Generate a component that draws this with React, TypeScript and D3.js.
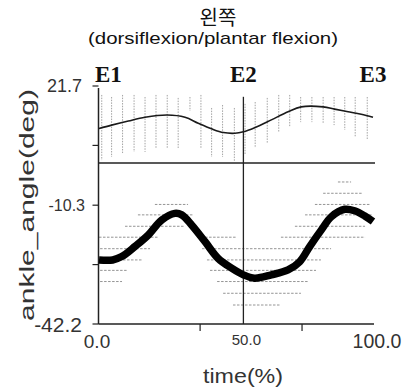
import React from "react";
import * as d3 from "d3";

// ---- data ----
const topX = [0, 4.6, 10.7, 16.8, 24.9, 31.4, 36.2, 41.1, 45.4, 49.6, 52.7, 56.8, 62.9, 69, 73.8, 81.8, 86, 90.9, 95.7, 100];
const topY = [10.3, 11.2, 12.3, 13.3, 13.9, 13.3, 11.7, 10.2, 9.2, 9.0, 9.4, 10.5, 12.6, 14.8, 16.1, 16.1, 15.5, 14.8, 14.1, 13.3];

const botX = [0, 5, 8.3, 13.1, 18, 22.9, 27.7, 30.2, 33.8, 38.7, 43.5, 48.4, 52.7, 56.8, 62.9, 69, 73.2, 76.9, 81.1, 84.8, 89.7, 93.3, 97, 100];
const botY = [-25.0, -25.0, -24.1, -21.4, -18.3, -14.3, -12.5, -12.9, -15.6, -20.1, -24.6, -27.2, -29.0, -29.9, -29.0, -27.7, -25.5, -21.4, -17.0, -13.4, -11.4, -11.8, -13.2, -14.7];

// vertical spread bars (top curve)
const colX = [1.0, 4.6, 8.6, 12.8, 16.8, 20.8, 24.9, 28.9, 33.2, 37.2, 41.1, 45.1, 49.4, 53.3, 57.0, 61.4, 65.6, 69.6, 73.6, 77.7, 81.8, 85.8, 89.7, 93.5, 97.9];
const colHi = [19.3, 18.75, 19.3, 19.3, 18.75, 19.3, 19.3, 18.5, 18.75, 19.3, 15.8, 16.6, 15.8, 16.9, 17.4, 18.5, 19.3, 19.3, 18.75, 18.75, 18.75, 18.75, 18.75, 18.75, 18.75];
const colLo = [1.8, 2.64, 3.7, 4.0, 4.0, 5.06, 5.06, 5.06, 15.0, 5.06, 2.64, 2.64, 1.3, 3.2, 5.06, 6.4, 9.35, 10.7, 12.0, 12.0, 11.8, 11.2, 9.9, 8.0, 7.2];

// horizontal spread bars (bottom curve)
const segLevel = [-4.07, -7.1, -10.1, -10.1, -12.9, -12.9, -15.96, -15.96, -18.9, -18.9, -18.9, -21.98, -21.98, -25.0, -25.0, -27.8, -27.8, -30.8, -30.8, -33.95, -37.1];
const segStart = [87.2, 81.8, 20.4, 78.8, 14.2, 75.2, 9.5, 71.5, 0, 35.8, 66.4, 0.4, 37.6, 0, 39.4, 0.4, 40.5, 0.4, 43.1, 45.3, 48.9];
const segEnd = [92.0, 96.4, 32.5, 98.9, 34.3, 100, 31.4, 97.1, 21.5, 50, 97.1, 18.6, 84.7, 15.7, 81.0, 10.6, 79.2, 8.4, 76.3, 73.7, 66.1];

const yTicks = [21.7, 5.75, -10.3, -26.25, -42.2];
const yTickLabels = ["21.7", "", "-10.3", "", "-42.2"];
const yLabelSizes = [18, 0, 16, 0, 21];
const xMinorTicks = [36.9, 74.1];
const eventNames = ["E1", "E2", "E3"];
const eventX = [0, 52.7, 100];
const xTickLabels = ["0.0", "50.0", "100.0"];
const xLabelSizes = [19, 15, 19.5];
const separatorValue = 1.0;
const yDomain = [-42.2, 21.7];

const W = 417;
const H = 387;

export default function App() {
  const x = d3.scaleLinear().domain([0, 100]).range([99, 373]);
  const y = d3.scaleLinear().domain(yDomain).range([324, 86]);

  const lineTop = d3
    .line<number>()
    .x((_, i) => x(topX[i]))
    .y((d) => y(d))
    .curve(d3.curveCatmullRom);
  const lineBot = d3
    .line<number>()
    .x((_, i) => x(botX[i]))
    .y((d) => y(d))
    .curve(d3.curveCatmullRom);

  const sans = "Arial, 'Liberation Sans', sans-serif";
  const serif = "'Times New Roman', 'Liberation Serif', serif";
  const axisX = x(0) - 0.5;
  const axisY = y(-42.2);
  const txt = "#333";

  return (
    <svg width={W} height={H} style={{ position: "absolute", left: 0, top: 0, background: "#fff" }}>
      {/* title */}
      <text x={218} y={25} textAnchor="middle" fontSize={20} fontFamily="'Noto Sans CJK KR', sans-serif" fill="#111">
        왼쪽
      </text>
      <text x={213} y={43.5} textAnchor="middle" fontSize={17} fontFamily={sans} fill="#111" textLength={250} lengthAdjust="spacingAndGlyphs">
        (dorsiflexion/plantar  flexion)
      </text>

      {/* vertical spread (top) */}
      {colX.map((cx, i) => (
        <line key={"c" + i} x1={x(cx)} x2={x(cx)} y1={y(colHi[i])} y2={y(colLo[i])} stroke="#a3a3a3" strokeWidth={1} strokeDasharray="1.5 1.2" />
      ))}

      {/* horizontal spread (bottom) */}
      {segLevel.map((lv, i) => (
        <line key={"s" + i} x1={x(segStart[i])} x2={x(segEnd[i])} y1={y(lv)} y2={y(lv)} stroke="#949494" strokeWidth={1} strokeDasharray="2.5 1.5" />
      ))}

      {/* separator */}
      <line x1={axisX} x2={x(100) + 2} y1={y(separatorValue)} y2={y(separatorValue)} stroke="#222" strokeWidth={1.5} />

      {/* axes */}
      <line x1={axisX} x2={axisX} y1={y(21.7) + 2} y2={axisY} stroke="#222" strokeWidth={1.5} />
      <line x1={axisX} x2={x(100) + 1} y1={axisY} y2={axisY} stroke="#222" strokeWidth={1.5} />
      {yTicks.map((t, i) => (
        <line key={"yt" + i} x1={axisX - 6} x2={axisX} y1={y(t)} y2={y(t)} stroke="#222" strokeWidth={1.2} />
      ))}
      {yTicks.map((t, i) =>
        yTickLabels[i] ? (
          <text key={"yl" + i} x={i === 2 ? 85 : 82} y={y(t) + yLabelSizes[i] * 0.36} textAnchor="end" fontSize={yLabelSizes[i]} fontFamily={sans} fill={txt}>
            {yTickLabels[i]}
          </text>
        ) : null
      )}
      {xMinorTicks.map((t, i) => (
        <line key={"xt" + i} x1={x(t)} x2={x(t)} y1={axisY} y2={axisY + 7} stroke="#222" strokeWidth={1.2} />
      ))}

      {/* event line E2 */}
      <line x1={x(eventX[1])} x2={x(eventX[1])} y1={y(18.8)} y2={axisY} stroke="#222" strokeWidth={1.3} />

      {/* curves */}
      <path d={lineTop(topY) || ""} fill="none" stroke="#1a1a1a" strokeWidth={1.6} />
      <path d={lineBot(botY) || ""} fill="none" stroke="#000" strokeWidth={7.5} strokeLinejoin="round" />

      {/* event labels */}
      {eventNames.map((n, i) => (
        <text
          key={"e" + i}
          x={i === 0 ? x(eventX[i]) - 4 : x(eventX[i])}
          y={82}
          textAnchor={i === 0 ? "start" : "middle"}
          fontSize={23}
          fontWeight="bold"
          fontFamily={serif}
          fill="#111"
        >
          {n}
        </text>
      ))}

      {/* x labels */}
      {eventX.map((v, i) => (
        <text
          key={"xl" + i}
          x={x(v) + (i === 0 ? -2 : i === 1 ? 3 : 4)}
          y={i === 1 ? 345 : 348}
          textAnchor="middle"
          fontSize={xLabelSizes[i]}
          fontFamily={sans}
          fill={txt}
        >
          {xTickLabels[i]}
        </text>
      ))}
      <text x={243} y={383} textAnchor="middle" fontSize={20} fontFamily={sans} fill={txt} textLength={80} lengthAdjust="spacingAndGlyphs">
        time(%)
      </text>
      <text
        transform="translate(34,205) rotate(-90)"
        textAnchor="middle"
        fontSize={21}
        fontFamily={sans}
        fill={txt}
        textLength={232}
        lengthAdjust="spacingAndGlyphs"
      >
        ankle_angle(deg)
      </text>
    </svg>
  );
}
